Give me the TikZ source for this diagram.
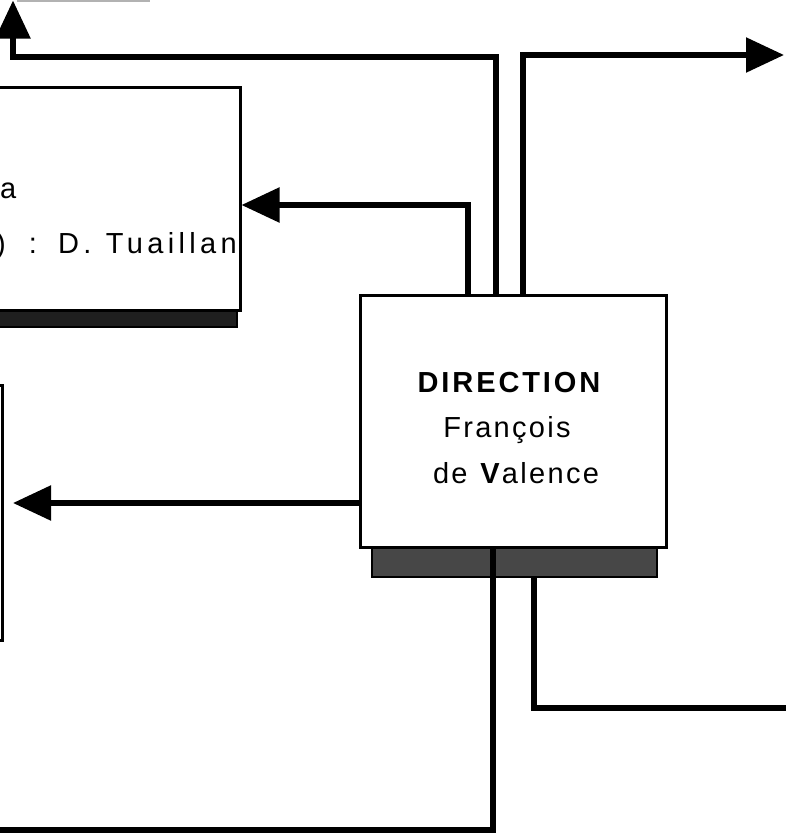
\documentclass[tikz,border=0pt]{standalone}
\usepackage{fontspec}
\setmainfont{Liberation Sans}
\newfontfamily\dirfont[LetterSpace=10]{Liberation Sans}
\newfontfamily\namefont[LetterSpace=8]{Liberation Sans}
\newfontfamily\tuafont[LetterSpace=15]{Liberation Sans}
\usetikzlibrary{arrows.meta,calc}
\tikzset{
  boxnode/.style={draw=black,line width=3pt,fill=white,rectangle,inner sep=0pt},
  shadownode/.style={rectangle,inner sep=0pt,draw=black,line width=2pt},
  conn/.style={line width=5.5pt,line join=miter,line cap=butt},
  arr/.style={-{Triangle[length=38pt,width=34pt]}},
  lbl/.style={inner sep=0pt,font=\fontsize{29}{34}\selectfont},
}
\begin{document}
\begin{tikzpicture}[x=1pt,y=-1pt]
\useasboundingbox (0,0) rectangle (786,838);
% faint line at top
\draw[gray!60,line width=1.5pt] (17,0.8) -- (150,0.8);
% shadows
\node[shadownode,fill=black!88,minimum width=262pt,minimum height=17pt] (tush) at (106,318.5) {};
\node[shadownode,fill=black!72,minimum width=285pt,minimum height=30pt] (dsh) at (514.5,562) {};
% boxes
\node[boxnode,minimum width=260pt,minimum height=223pt] (tu) at (110,198.5) {};
\node[boxnode,minimum width=204pt,minimum height=255pt] (lb) at (-100,512.5) {};
\node[boxnode,minimum width=306pt,minimum height=252pt] (dir) at (513,421) {};
% texts
\node[lbl,anchor=base,font=\fontsize{29}{34}\selectfont\bfseries\dirfont] (t1) at (509,392) {DIRECTION};
\node[lbl,anchor=base,font=\fontsize{29}{34}\selectfont\namefont] (t2) at (507,437) {François};
\node[lbl,anchor=base,font=\fontsize{29}{34}\selectfont\namefont] (t3) at (516,483) {de \textbf{V}alence};
\node[lbl,anchor=base west,font=\fontsize{29}{34}\selectfont\tuafont] (ta) at (0,198) {a};
\node[lbl,anchor=base east] (tb) at (6,253) {)};
\node[lbl,anchor=base] (tc) at (33,253) {:};
\node[lbl,anchor=base west,font=\fontsize{29}{34}\selectfont\tuafont] (td) at (58,253) {D.\hspace{2pt} Tuaillan};
% bend coordinates
\coordinate (c1) at (468,205);
\coordinate (c2) at (496,57);
\coordinate (c2e) at (13,57);
\coordinate (c2t) at (13,0.5);
\coordinate (c3) at (523,55);
\coordinate (c3t) at (784,55);
\coordinate (c4) at (0,503);
\coordinate (c4t) at (13,503);
\coordinate (c5) at (493,830);
\coordinate (c5e) at (-5,830);
\coordinate (c6) at (534,708);
\coordinate (c6e) at (790,708);
% connectors
\draw[conn,arr] (dir.north -| c1) |- (tu.east |- c1);
\draw[conn,arr] (dir.north -| c2) -- (c2) -- (c2e) -- (c2t);
\draw[conn,arr] (dir.north -| c3) -- (c3) -- (c3t);
\draw[conn,arr] (dir.west |- c4) -- (c4t);
\draw[conn] (dir.south -| c5) -- (c5) -- (c5e);
\draw[conn] (dsh.south -| c6) -- (c6) -- (c6e);
\end{tikzpicture}
\end{document}
